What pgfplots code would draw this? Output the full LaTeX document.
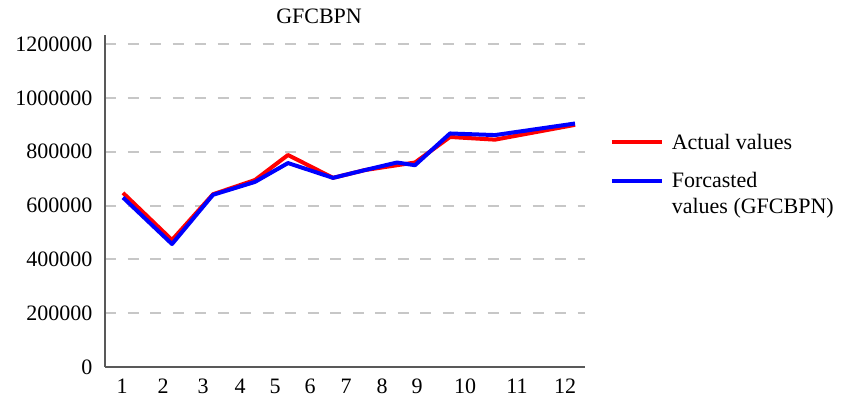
\documentclass[border=0pt]{standalone}
\usepackage{fontspec}
\setmainfont{Liberation Serif}
\usepackage{pgfplots}
\pgfplotsset{compat=1.18}
\begin{document}
\fontsize{22}{26}\selectfont
\begin{tikzpicture}[x=1pt,y=1pt]
\path[use as bounding box] (0,0) rectangle (851,404);
\begin{axis}[
  at={(105pt,37pt)}, anchor=south west,
  scale only axis, width=480pt, height=332pt,
  xmin=105, xmax=585, ymin=0, ymax=1234000,
  axis lines=left, axis line style={-, draw=black!65, line width=2.5pt},
  xtick={122,163,203,240,275,310,346,382,417,465,517,565},
  xticklabels={1,2,3,4,5,6,7,8,9,10,11,12},
  ytick={0,200000,400000,600000,800000,1000000,1200000},
  scaled y ticks=false,
  yticklabel={\pgfmathprintnumber[fixed,1000 sep={}]{\tick}},
  /pgf/number format/assume math mode=true,
  tick style={draw=none},
  ymajorgrids, major grid style={draw=black!22, line width=2pt, dash pattern=on 11pt off 11.5pt},
  ticklabel style={font=\fontsize{22}{26}\selectfont},
  yticklabel style={xshift=-3pt},
  xticklabel style={yshift=-2pt},
  title={GFCBPN}, title style={font=\fontsize{22}{26}\selectfont, at={(axis description cs:0.446,1)}, yshift=-2pt},
  legend style={draw=none, fill=none, at={(axis description cs:1.045,0.715)}, anchor=north west,
    font=\fontsize{22}{26}\selectfont, cells={anchor=base west}, row sep=16pt, column sep=6pt},
  legend image code/.code={\draw[#1] (0pt,7pt) -- (50pt,7pt);},
]
\addplot[red, line width=4pt, line join=round] coordinates {
(123,647000) (172,472000) (213,642000) (255,695000) (288,788000) (333,703000)
(365,732000) (397,750000) (415,760000) (450,855000) (495,845000) (575,900000)};
\addlegendentry{Actual values}
\addplot[blue, line width=4pt, line join=round] coordinates {
(123,630000) (172,457000) (213,640000) (255,688000) (288,758000) (333,703000)
(365,732000) (397,760000) (415,750000) (450,868000) (495,862000) (575,905000)};
\addlegendentry{\vtop{\hbox{Forcasted}\hbox{values (GFCBPN)}}}
\end{axis}
\end{tikzpicture}
\end{document}
